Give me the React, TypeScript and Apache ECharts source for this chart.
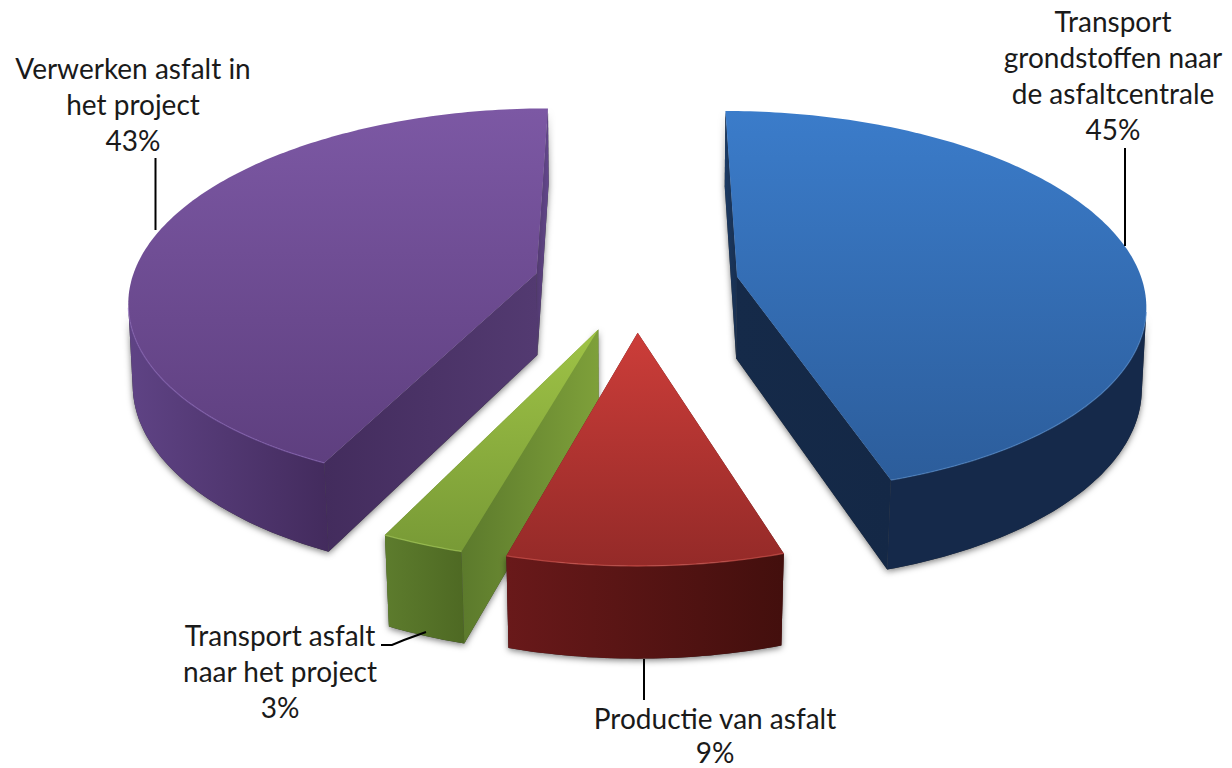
import React, { useEffect, useRef } from "react";
import * as echarts from "echarts";

const categories = ["Transport\ngrondstoffen naar\nde asfaltcentrale", "Productie van asfalt", "Transport asfalt\nnaar het project", "Verwerken asfalt in\nhet project"];
const values = [45.1, 9.3, 2.8, 42.8];

const topColors = [["#3b7cca", "#2c5d9b"], ["#cc3d39", "#942a28"], ["#9fc346", "#789a36"], ["#7c58a4", "#5e3f7f"]];
const outerColors = [["#15294a", "#15294a"], ["#69191a", "#430f0d"], ["#5d7c2d", "#4e6923"], ["#5f4385", "#432b5d"]];
const startWallColors = [["#1b3a63", "#182f50"], ["#5a1616", "#5a1616"], ["#5c7a2c", "#7ea03a"], ["#432c5d", "#533a71"]];
const endWallColors = [["#152a49", "#142846"], ["#5a1616", "#5a1616"], ["#5c7a2c", "#7ea03a"], ["#523a70", "#63478c"]];
const rimColors = ["#5a90d0", "#e0605a", "#b5d866", "#8f6cc0"];
const layers = [1, 3, 2, 1];

const labelLayout = [
  { x: 1113, y: 75, lh: 36.3, line: [[1125, 148], [1125, 246]] },
  { x: 715, y: 735, lh: 34, line: [[644, 659], [644, 700]] },
  { x: 280, y: 671, lh: 36, line: [[381, 645], [392, 645], [404, 640], [426, 632]] },
  { x: 133, y: 104, lh: 36, line: [[155.5, 158], [155.5, 230]] },
];

const CX = 636, CY = 283.9, A = 406, B = 189, K = 0.13, EX = 0.253, EY = 0.25;
const rad = (d: number) => (d * Math.PI) / 180;
const project = (x: number, y: number, low: boolean): number[] => {
  const w = 1 / (1 + K * y);
  const sx = CX + A * x * w;
  const sy = CY - B * y * w;
  if (!low) return [sx, sy];
  const shrink = 1 - (0.008 + 0.007 * Math.max(0, -y));
  return [CX + (sx - CX) * shrink, sy + 27 + 55 * w];
};
const grad = (c: string[], vertical: boolean) =>
  new echarts.graphic.LinearGradient(0, 0, vertical ? 0 : 1, vertical ? 1 : 0, [
    { offset: 0, color: c[0] },
    { offset: 1, color: c[1] },
  ]);
const SHADOW = { shadowBlur: 6, shadowColor: "rgba(0,0,0,0.5)", shadowOffsetX: 0, shadowOffsetY: 2 };

const total = values.reduce((a, b) => a + b, 0);

const renderItem = (params: any) => {
  const i = params.dataIndex;
  const before = values.slice(0, i).reduce((a, b) => a + b, 0);
  const a0 = (before / total) * 360;
  const a1 = ((before + values[i]) / total) * 360;
  const mid = rad((a0 + a1) / 2);
  const ox = EX * Math.sin(mid);
  const oy = EY * Math.cos(mid);
  const world: number[][] = [];
  const front: boolean[] = [];
  const n = Math.max(2, Math.ceil(a1 - a0));
  for (let s = 0; s <= n; s++) {
    const t = rad(a0 + ((a1 - a0) * s) / n);
    world.push([ox + Math.sin(t), oy + Math.cos(t)]);
    front.push(Math.cos(t) <= -0.17);
  }
  const up = world.map((p) => project(p[0], p[1], false));
  const down = world.map((p) => project(p[0], p[1], true));
  const apex = project(ox, oy, false);
  const apexLow = project(ox, oy, true);
  const upFront = up.filter((_, k) => front[k]);
  const downFront = down.filter((_, k) => front[k]);
  const z2 = layers[i];

  const isFront = (edge: number[], other: number[]) => {
    const ex = edge[0] - apex[0], ey = edge[1] - apex[1];
    const c1 = ex * (other[1] - apex[1]) - ey * (other[0] - apex[0]);
    return c1 * ex < 0;
  };
  const first = up[0], last = up[up.length - 1];
  const walls = [
    { pts: [apex, first, down[0], apexLow], c: startWallColors[i], front: isFront(first, last) },
    { pts: [apex, last, down[down.length - 1], apexLow], c: endWallColors[i], front: isFront(last, first) },
  ];
  const outerPts = [...upFront, ...downFront.slice().reverse()];

  const children: any[] = [];
  [outerPts, ...walls.filter((w) => w.front).map((w) => w.pts)].forEach((pts) => {
    children.push({ type: "polygon", z2, shape: { points: pts }, style: { fill: "#333", ...SHADOW } });
  });
  walls.filter((w) => !w.front).forEach((w) => {
    children.push({ type: "polygon", z2, shape: { points: w.pts }, style: { fill: grad(w.c, false) } });
  });
  children.push({ type: "polygon", z2, shape: { points: outerPts }, style: { fill: grad(outerColors[i], false) } });
  walls.filter((w) => w.front).forEach((w) => {
    children.push({ type: "polygon", z2, shape: { points: w.pts }, style: { fill: grad(w.c, false) } });
  });
  children.push({ type: "polygon", z2, shape: { points: [apex, ...up] }, style: { fill: grad(topColors[i], true) } });
  children.push({
    type: "polyline", z2, shape: { points: upFront },
    style: { stroke: rimColors[i], lineWidth: 1.3, fill: "none", opacity: 0.55 },
  });

  const layout = labelLayout[i];
  children.push({
    type: "polyline", z2: 5, shape: { points: layout.line },
    style: { stroke: "#000", lineWidth: 2, fill: "none" },
  });
  children.push({
    type: "text", z2: 6, x: layout.x, y: layout.y,
    style: {
      text: `${categories[i]}\n${Math.round(values[i])}%`,
      font: '28px Lato', fill: "#1a1a1a", align: "center", verticalAlign: "middle", lineHeight: layout.lh,
    },
  });
  return { type: "group", children };
};

export default function App() {
  const ref = useRef<HTMLDivElement>(null);
  useEffect(() => {
    const chart = echarts.init(ref.current!, null, { renderer: "svg" });
    chart.setOption({
      animation: false,
      backgroundColor: "#fff",
      series: [{
        type: "custom",
        coordinateSystem: "none",
        silent: true,
        data: values.map((v) => [v]),
        renderItem,
      }],
    });
    return () => chart.dispose();
  }, []);
  return <div ref={ref} style={{ position: "absolute", left: 0, top: 0, width: 1232, height: 768 }} />;
}
